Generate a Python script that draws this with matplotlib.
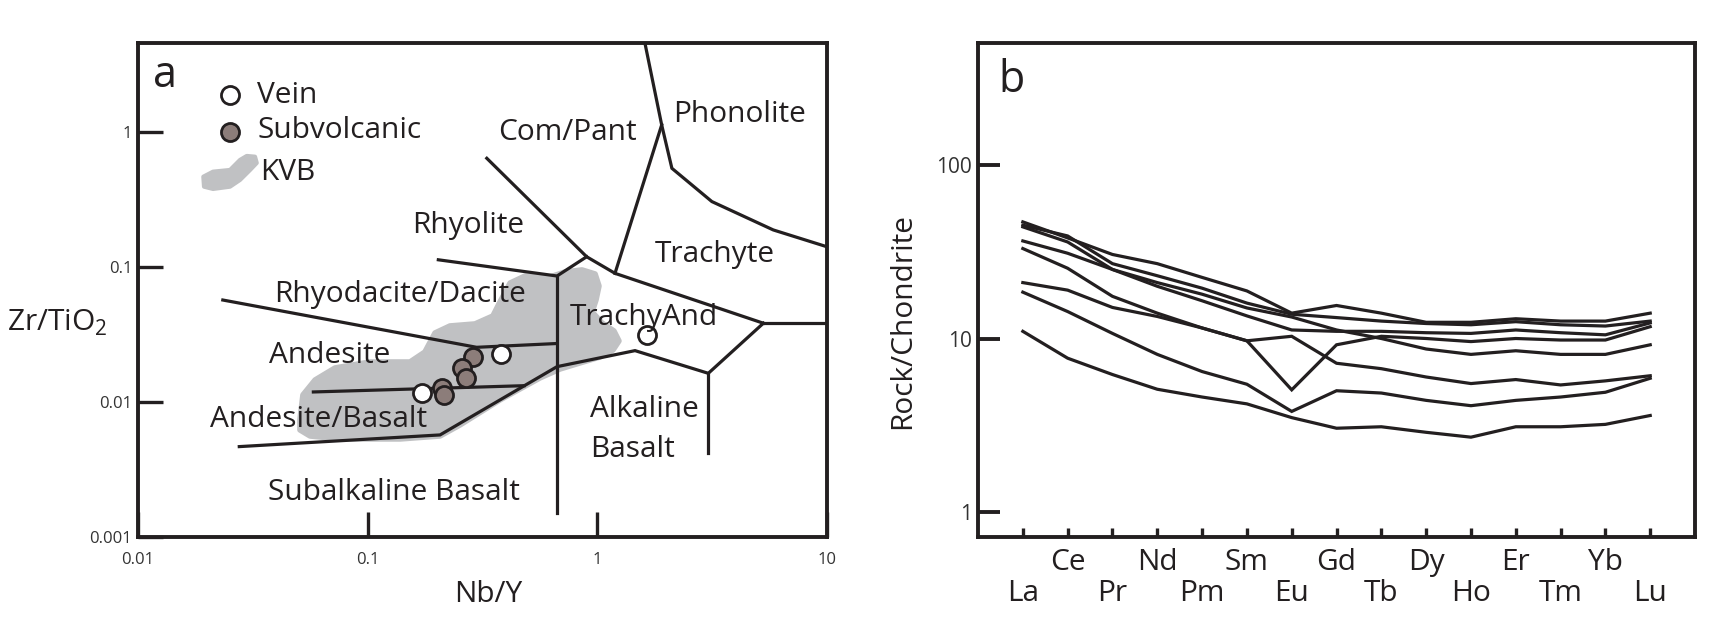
import numpy as np
import matplotlib
matplotlib.use("Agg")
import matplotlib.pyplot as plt

plt.rcParams['font.family'] = ['Open Sans', 'DejaVu Sans']
plt.rcParams['mathtext.fontset'] = 'custom'
plt.rcParams['mathtext.rm'] = 'Open Sans'

INK = '#231f20'
GRAY = '#c0c1c3'
SUBV = '#8c7d7a'

# ---------------- Panel a data (Winchester & Floyd Nb/Y vs Zr/TiO2) ----------------
vein_nby = [0.379, 0.172, 1.64]
vein_zr = [0.0227, 0.0116, 0.0313]
sub_nby = [0.288, 0.2565, 0.268, 0.210, 0.215]
sub_zr = [0.0214, 0.0178, 0.0150, 0.0126, 0.0113]

# field boundaries (Nb/Y, Zr/TiO2)
bnd_phon_x = [1.61, 1.905, 2.11, 3.15, 5.83, 10.0]
bnd_phon_y = [4.56, 1.127, 0.538, 0.305, 0.188, 0.141]
bnd_cptr_x = [1.905, 1.193]
bnd_cptr_y = [1.127, 0.0897]
bnd_rhy_x = [0.330, 0.898, 1.193, 5.28]
bnd_rhy_y = [0.638, 0.119, 0.0897, 0.0383]
bnd_rrd_x = [0.203, 0.667, 0.898]
bnd_rrd_y = [0.113, 0.0857, 0.119]
bnd_vert_x = [0.667, 0.667]
bnd_vert_y = [0.0857, 0.0015]
bnd_righth_x = [5.28, 10.0]
bnd_righth_y = [0.0383, 0.0383]
bnd_alk_x = [5.28, 3.04, 1.458, 0.667, 0.2065, 0.0276]
bnd_alk_y = [0.0383, 0.0163, 0.0240, 0.01826, 0.0057, 0.00467]
bnd_alkv_x = [3.04, 3.04]
bnd_alkv_y = [0.0163, 0.00417]
bnd_aab_x = [0.058, 0.48]
bnd_aab_y = [0.01186, 0.0132]
bnd_rda_x = [0.0234, 0.298, 0.667]
bnd_rda_y = [0.0569, 0.0254, 0.0271]

boundaries = [
    (bnd_phon_x, bnd_phon_y), (bnd_cptr_x, bnd_cptr_y), (bnd_rhy_x, bnd_rhy_y),
    (bnd_rrd_x, bnd_rrd_y), (bnd_vert_x, bnd_vert_y), (bnd_righth_x, bnd_righth_y),
    (bnd_alk_x, bnd_alk_y), (bnd_alkv_x, bnd_alkv_y), (bnd_aab_x, bnd_aab_y),
    (bnd_rda_x, bnd_rda_y),
]

# KVB field outline (log10 Nb/Y, log10 Zr/TiO2)
kvb_log_nby = [-1.295, -1.282, -1.229, -1.142, -0.990, -0.816, -0.751, -0.707, -0.642, -0.533,
               -0.455, -0.424, -0.380, -0.315, -0.206, -0.141, -0.067, -0.010, 0.007, -0.006,
               -0.023, 0.020, 0.072, 0.094, 0.068, 0.011, -0.076, -0.163, -0.250, -0.424,
               -0.598, -0.685, -0.859, -1.121, -1.251, -1.295]
kvb_log_zr = [-2.133, -1.948, -1.837, -1.748, -1.704, -1.704, -1.630, -1.489, -1.437, -1.422,
              -1.363, -1.259, -1.119, -1.067, -1.074, -1.037, -1.022, -1.052, -1.141, -1.244,
              -1.333, -1.415, -1.474, -1.548, -1.615, -1.667, -1.711, -1.756, -1.822, -1.985,
              -2.170, -2.252, -2.274, -2.274, -2.252, -2.207]

field_labels = ['Com/Pant', 'Phonolite', 'Rhyolite', 'Trachyte', 'Rhyodacite/Dacite',
                'TrachyAnd', 'Andesite', 'Andesite/Basalt', 'Subalkaline Basalt']
field_label_pos = [(0.6226, 0.8036), (0.8737, 0.8401), (0.4797, 0.6154), (0.8374, 0.5573),
                   (0.3803, 0.4757), (0.7344, 0.4291), (0.2787, 0.3522), (0.2627, 0.2227),
                   (0.3716, 0.0749)]

xa_ticks = [0.01, 0.1, 1, 10]
xa_labels = ['0.01', '0.1', '1', '10']
ya_ticks = [0.001, 0.01, 0.1, 1]
ya_labels = ['0.001', '0.01', '0.1', '1']

# ---------------- Panel b data (REE / chondrite) ----------------
ree = ['La', 'Ce', 'Pr', 'Nd', 'Pm', 'Sm', 'Eu', 'Gd', 'Tb', 'Dy', 'Ho', 'Er', 'Tm', 'Yb', 'Lu']
ree_s1 = [47, 38, 30.5, 27, 22.5, 18.8, 14, 15.5, 14, 12.4, 12.4, 13, 12.6, 12.6, 14]
ree_s2 = [45, 39, 27, 23, 19.5, 16, 13.8, 13.2, 12.6, 12.2, 12, 12.5, 12, 11.8, 12.6]
ree_s3 = [44, 36, 25, 21, 18, 15, 13.3, 11.2, 10, 8.7, 8.1, 8.5, 8.1, 8.1, 9.2]
ree_s4 = [36.5, 31, 25, 20, 16.5, 13.5, 11.2, 11, 11, 10.8, 10.7, 11.2, 10.8, 10.5, 12.3]
ree_s5 = [33, 25.4, 17.5, 14, 11.5, 9.7, 5.06, 9.2, 10.3, 10, 9.6, 10, 9.8, 9.8, 11.7]
ree_s6 = [21, 19, 15.1, 13.4, 11.5, 9.7, 10.3, 7.2, 6.7, 6.0, 5.5, 5.8, 5.4, 5.7, 6.1]
ree_s7 = [18.5, 14.3, 10.7, 8.1, 6.45, 5.45, 3.8, 5.0, 4.85, 4.4, 4.1, 4.4, 4.6, 4.9, 5.9]
ree_s8 = [11, 7.7, 6.2, 5.1, 4.6, 4.2, 3.5, 3.04, 3.1, 2.88, 2.7, 3.1, 3.1, 3.2, 3.6]
ree_series = [ree_s1, ree_s2, ree_s3, ree_s4, ree_s5, ree_s6, ree_s7, ree_s8]

yb_ticks = [1, 10, 100]
yb_labels = ['1', '10', '100']

# ---------------- Figure ----------------
fig = plt.figure(figsize=(17.24, 6.2), dpi=100)
axa = fig.add_axes([0.08005, 0.1339, 0.3997, 0.7968])
axb = fig.add_axes([0.5673, 0.1339, 0.4159, 0.7968])

for ax in (axa, axb):
    for s in ax.spines.values():
        s.set_linewidth(2.8)
        s.set_color(INK)
        s.set_zorder(5)

# ----- panel a -----
axa.set_xscale('log')
axa.set_yscale('log')
axa.set_xlim(0.01, 10)
axa.set_ylim(0.001, 4.56)
axa.set_xticks(xa_ticks)
axa.set_xticklabels(xa_labels)
axa.set_yticks(ya_ticks)
axa.set_yticklabels(ya_labels)
axa.minorticks_off()
axa.tick_params(axis='both', which='major', direction='in', length=18, width=2.4,
                color=INK, labelsize=12, labelcolor='#333333')
axa.tick_params(axis='x', pad=11)
axa.tick_params(axis='y', pad=4.3)

axa.fill(10 ** np.array(kvb_log_nby), 10 ** np.array(kvb_log_zr), facecolor=GRAY,
         edgecolor=GRAY, linewidth=4, joinstyle='round', zorder=1)

for bx, by in boundaries:
    axa.plot(bx, by, color=INK, lw=2.3, solid_joinstyle='miter', zorder=2)

axa.plot(sub_nby, sub_zr, 'o', ms=13, mfc=SUBV, mec=INK, mew=2.0, zorder=3, ls='none')
axa.plot(vein_nby, vein_zr, 'o', ms=13, mfc='white', mec=INK, mew=2.0, zorder=4, ls='none')

for lab, (fx, fy) in zip(field_labels, field_label_pos):
    axa.text(fx, fy, lab, transform=axa.transAxes, ha='center', va='baseline',
             fontsize=21.5, color=INK, zorder=6)
axa.text(0.656, 0.2429, 'Alkaline', transform=axa.transAxes, ha='left', va='baseline',
         fontsize=21.5, color=INK)
axa.text(0.656, 0.162, 'Basalt', transform=axa.transAxes, ha='left', va='baseline',
         fontsize=21.5, color=INK)

# legend
axa.plot([0.1335], [0.8947], 'o', ms=13, mfc='white', mec=INK, mew=2.0,
         transform=axa.transAxes, clip_on=False, zorder=6)
axa.plot([0.1335], [0.8205], 'o', ms=13, mfc=SUBV, mec=INK, mew=2.0,
         transform=axa.transAxes, clip_on=False, zorder=6)
blob_x = [0.0948, 0.1089, 0.1335, 0.148, 0.1578, 0.1698, 0.1723, 0.1626, 0.148, 0.1335, 0.1089, 0.0958]
blob_y = [0.7293, 0.7395, 0.7429, 0.7632, 0.7713, 0.7698, 0.7571, 0.7429, 0.7227, 0.7091, 0.7045, 0.7091]
axa.fill(blob_x, blob_y, transform=axa.transAxes, facecolor=GRAY, edgecolor=GRAY,
         linewidth=3, joinstyle='round', zorder=6)
axa.text(0.1727, 0.8785, 'Vein', transform=axa.transAxes, fontsize=21.5, va='baseline', color=INK)
axa.text(0.1727, 0.807, 'Subvolcanic', transform=axa.transAxes, fontsize=21.5, va='baseline', color=INK)
axa.text(0.1771, 0.7227, 'KVB', transform=axa.transAxes, fontsize=21.5, va='baseline', color=INK)

axa.text(0.0218, 0.911, 'a', transform=axa.transAxes, fontsize=31, va='baseline', color=INK)
axa.text(-0.1176, 0.433, r'Zr/TiO$_\mathregular{2}$', transform=axa.transAxes, fontsize=21.5,
         ha='center', va='center', color=INK)
axa.text(0.508, -0.117, 'Nb/Y', transform=axa.transAxes, fontsize=21.5,
         ha='center', va='center', color=INK)

# ----- panel b -----
axb.set_yscale('log')
axb.set_xlim(-1, 15)
axb.set_ylim(0.718, 505)
axb.set_yticks(yb_ticks)
axb.set_yticklabels(yb_labels)
axb.minorticks_off()
axb.tick_params(axis='y', direction='in', length=16, width=2.8, color=INK,
                labelsize=15, labelcolor='#333333', pad=4.3)
xpos = np.arange(len(ree))
axb.set_xticks(xpos)
axb.set_xticklabels(ree)
axb.tick_params(axis='x', direction='in', length=6.5, width=2.4, color=INK,
                labelsize=21.5, labelcolor=INK)
for i, tk in enumerate(axb.xaxis.get_major_ticks()):
    tk.set_pad(30.2 if i % 2 == 0 else 7.9)

for s in ree_series:
    axb.plot(xpos, s, color=INK, lw=2.3, solid_joinstyle='miter', zorder=2)

axb.text(0.0279, 0.9008, 'b', transform=axb.transAxes, fontsize=31, va='baseline', color=INK)
axb.text(-0.1046, 0.437, 'Rock/Chondrite', transform=axb.transAxes, fontsize=21.5,
         rotation=90, ha='center', va='center', color=INK)

fig.savefig('out.png', dpi=100, facecolor='white')
